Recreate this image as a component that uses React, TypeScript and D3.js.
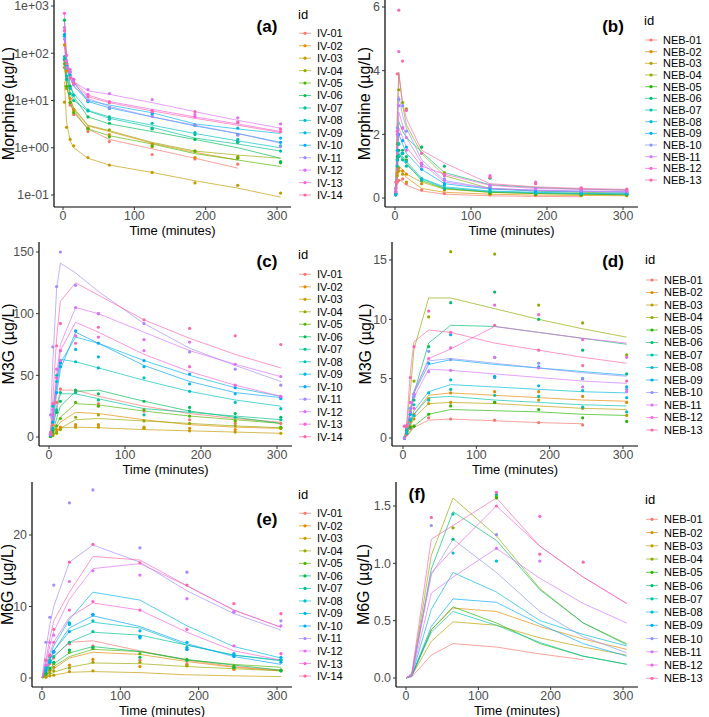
import React from 'react';
import * as d3 from 'd3';

const IV_IDS = ['IV-01','IV-02','IV-03','IV-04','IV-05','IV-06','IV-07','IV-08','IV-09','IV-10','IV-11','IV-12','IV-13','IV-14'];
const NEB_IDS = ['NEB-01','NEB-02','NEB-03','NEB-04','NEB-05','NEB-06','NEB-07','NEB-08','NEB-09','NEB-10','NEB-11','NEB-12','NEB-13'];
const X_TICKS = [0, 100, 200, 300];

// (a) Morphine IV (log scale)
const TIME_A = [2, 5, 10, 15, 35, 65, 125, 185, 245, 305];
const A_YTICKS = [0.1, 1, 10, 100, 1000];
const A_YLABELS = ['1e-01', '1e+00', '1e+01', '1e+02', '1e+03'];
const A_PRED = [
  [60, 22, 9, 5.5, 2.5, 1.5, 0.95, 0.6, 0.37, null],
  [150, 40, 12, 6.5, 2.9, 2.2, 1.25, 0.8, 0.55, null],
  [25, 3.5, 1.4, 1.0, 0.6, 0.43, 0.3, 0.2, 0.14, 0.09],
  [55, 20, 10, 7, 3.0, 2.3, 1.3, 0.85, 0.7, 0.6],
  [65, 22, 9, 6, 2.5, 1.8, 1.2, 0.75, 0.55, 0.4],
  [500, 60, 22, 12, 4.5, 3.2, 2.2, 1.5, 1.0, 0.6],
  [80, 30, 15, 10, 6, 4.2, 2.7, 1.6, 1.2, 0.85],
  [90, 35, 20, 14, 6.2, 4.5, 3.0, 2.0, 1.4, 1.0],
  [200, 60, 30, 20, 10, 8, 5.5, 3.2, 2.5, 2.0],
  [250, 70, 35, 25, 9.5, 7, 4.5, 2.9, 2.0, 1.3],
  [180, 50, 30, 20, 11, 7.5, 4.5, 3.0, 2.0, 1.25],
  [300, 70, 35, 25, 16, 13.5, 9, 5.8, 3.8, 2.6],
  [700, 80, 40, 25, 13, 9.5, 6.5, 4.5, 3.2, 2.2],
  [250, 60, 30, 22, 12, 9, 6, 4.2, 3.0, 2.1],
];
const A_OBS = [
  [70, 20, 8, 5, 2.2, 1.35, 0.72, 0.58, 0.45, null],
  [150, 42, 11, 6.5, 2.6, 1.9, 1.2, 0.62, 0.62, null],
  [9.2, 2.7, 1.5, 1.1, 0.62, 0.43, 0.30, 0.18, 0.16, 0.11],
  [50, 18, 9, 6, 2.6, 2.4, 1.05, 0.85, 0.65, 0.5],
  [60, 20, 9, 5.5, 2.5, 1.7, 1.1, 0.85, 0.6, 0.48],
  [500, 60, 20, 13, 4.5, 3.3, 2.5, 1.5, 1.3, 0.5],
  [75, 28, 14, 10, 6, 4.5, 2.6, 1.9, 1.35, 0.85],
  [85, 33, 18, 13, 6.3, 4.0, 3.3, 2.1, 1.5, 1.1],
  [230, 55, 35, 22, 9.8, 7, 5.0, 3.0, 2.6, 1.6],
  [250, 60, 40, 28, 9.5, 6.8, 5.5, 3.0, 1.9, 1.3],
  [200, 50, 30, 22, 10, 7.0, 4.6, 3.0, 1.85, 1.05],
  [350, 70, 40, 25, 17, 14, 10.5, 5.0, 4.3, 3.2],
  [700, 90, 45, 28, 13.5, 9.5, 6.2, 4.5, 3.5, 2.5],
  [300, 60, 30, 23, 12, 9, 5.8, 5.8, 3.4, 2.2],
];

// (b) Morphine NEB
const TIME_B = [1, 3, 5, 10, 15, 35, 65, 125, 185, 245, 305];
const B_YTICKS = [0, 2, 4, 6];
const B_PRED = [
  [0.05, 0.4, 0.6, 0.5, 0.4, 0.22, 0.12, 0.07, 0.05, 0.04, null],
  [0.1, 0.6, 0.9, 0.8, 0.65, 0.3, 0.18, 0.12, 0.09, 0.08, 0.07],
  [0.1, 0.7, 1.0, 0.9, 0.75, 0.5, 0.28, 0.18, 0.14, 0.12, 0.1],
  [0.2, 2.5, 3.95, 2.9, 2.3, 1.4, 0.7, 0.3, 0.22, 0.18, 0.15],
  [0.1, 1.0, 1.4, 1.25, 1.1, 0.55, 0.3, 0.18, 0.14, 0.12, 0.1],
  [0.2, 1.5, 2.4, 2.1, 1.9, 1.45, 0.8, 0.42, 0.33, 0.28, 0.25],
  [0.1, 0.9, 1.4, 1.2, 1.05, 0.6, 0.32, 0.2, 0.16, 0.14, 0.12],
  [0.1, 1.0, 1.5, 1.3, 1.15, 0.62, 0.35, 0.22, 0.18, 0.15, 0.13],
  [0.15, 1.3, 2.0, 1.7, 1.4, 0.9, 0.45, 0.28, 0.22, 0.2, 0.18],
  [0.2, 2.0, 3.2, 2.6, 2.2, 1.2, 0.55, 0.3, 0.25, 0.22, 0.2],
  [0.2, 1.7, 2.7, 2.3, 1.9, 1.1, 0.5, 0.3, 0.24, 0.21, 0.19],
  [0.15, 1.4, 2.2, 1.9, 1.6, 1.0, 0.75, 0.4, 0.3, 0.27, 0.24],
  [0.3, 2.5, 3.9, 3.0, 2.5, 1.5, 1.1, 0.45, 0.35, 0.3, 0.27],
];
const B_OBS = [
  [0.1, 0.5, 0.55, 0.6, 0.45, 0.25, 0.14, 0.1, 0.08, 0.07, null],
  [0.2, 0.8, 0.95, 0.85, 0.75, 0.45, 0.25, 0.12, 0.1, 0.08, 0.07],
  [0.3, 0.7, 0.85, 0.75, 0.5, 0.55, 0.3, 0.2, 0.15, 0.12, 0.1],
  [0.3, 1.7, 3.4, 3.0, 2.8, 1.6, 0.8, 0.35, 0.2, 0.15, 0.12],
  [0.15, 1.2, 1.5, 1.4, 1.2, 0.6, 0.28, 0.15, 0.12, 0.1, 0.1],
  [0.15, 1.3, 1.7, 1.5, 1.3, 1.6, 1.0, 0.62, 0.3, 0.25, 0.25],
  [0.1, 1.0, 1.3, 1.2, 1.0, 0.55, 0.3, 0.2, 0.15, 0.12, 0.12],
  [0.1, 1.2, 1.7, 1.4, 1.15, 0.6, 0.4, 0.25, 0.18, 0.16, 0.14],
  [0.1, 1.5, 2.0, 1.8, 1.6, 0.9, 0.45, 0.3, 0.22, 0.2, 0.18],
  [0.2, 2.2, 3.1, 2.9, 2.1, 1.05, 0.6, 0.35, 0.28, 0.22, 0.2],
  [0.3, 2.0, 2.9, 2.2, 1.9, 1.0, 0.55, 0.4, 0.3, 0.25, 0.2],
  [0.2, 2.1, 4.6, 2.2, 1.5, 1.1, 0.7, 0.7, 0.5, 0.3, 0.25],
  [0.5, 3.9, 5.9, 4.3, 2.75, 1.4, 0.75, 0.65, 0.45, 0.32, 0.28],
];

// (c) M3G IV
const TIME_C = [2, 5, 10, 15, 35, 65, 125, 185, 245, 305];
const C_YTICKS = [0, 50, 100, 150];
const C_PRED = [
  [1, 8, 25, 38, 38, 33, 25, 19, 15, 12],
  [0.5, 3, 8, 12, 20, 19, 14, 10, 8, 7],
  [0.5, 2, 5, 7.5, 8, 7.5, 6, 5, 4, 3],
  [0.3, 1.5, 4, 7, 14, 15, 13, 11, 9, 7.5],
  [0.5, 3, 10, 16, 27, 26, 21, 17, 14, 11],
  [0.5, 4, 15, 25, 37, 38, 29, 21, 16, 11],
  [1, 8, 22, 35, 35, 31, 23, 20, 17, 14],
  [2, 20, 45, 63, 61, 56, 46, 37, 30, 25],
  [2, 15, 40, 60, 81, 76, 62, 50, 40, 33],
  [1, 10, 35, 55, 85, 76, 58, 45, 36, 32],
  [15, 60, 120, 141, 133, 118, 92, 72, 58, 45],
  [3, 20, 50, 75, 105, 100, 85, 70, 59, 49],
  [2, 15, 45, 70, 93, 85, 67, 53, 42, 33],
  [5, 30, 80, 110, 125, 115, 95, 80, 67, 56],
];
const C_OBS = [
  [1, 10, 28, 39, 37, 27, 21, 14, 11, 11],
  [0.5, 2, 6, 8, 10, 10, 8, 7, 6, 7],
  [0.5, 2, 4, 7, 8, 8, 7, 5, 4, 3],
  [0.3, 1, 3, 6, 16, 18, 13, 11, 9, 7],
  [0.5, 3, 9, 15, 28, 25, 22, 17, 13, 8],
  [1, 5, 20, 29, 38, 35, 29, 24, 19, 16],
  [1, 7, 22, 36, 36, 30, 18, 21, 16, 14],
  [2, 25, 50, 60, 61, 56, 48, 37, 28, 23],
  [2, 18, 45, 57, 71, 65, 57, 43, 35, 31],
  [1, 12, 36, 60, 86, 76, 62, 51, 40, 32],
  [18, 73, 122, 150, 123, 100, 92, 69, 55, 42],
  [3, 22, 55, 62, 105, 100, 70, 77, 59, 49],
  [2, 18, 48, 70, 82, 81, 79, 57, 42, 33],
  [4, 27, 74, 92, 76, 89, 95, 88, 82, 75],
];

// (d) M3G NEB
const TIME_D = [2, 5, 10, 15, 35, 65, 125, 185, 245, 305];
const D_YTICKS = [0, 5, 10, 15];
const D_PRED = [
  [0, 0.1, 0.5, 0.9, 1.5, 1.6, 1.45, 1.3, 1.2, null],
  [0, 0.3, 1.2, 2.0, 3.6, 3.8, 3.6, 3.4, 3.2, 3.1],
  [0, 0.3, 1.0, 1.7, 2.9, 3.0, 2.9, 2.7, 2.5, 2.4],
  [0, 1.0, 4.0, 7.5, 11.8, 11.8, 10.9, 10.0, 9.2, 8.5],
  [0, 0.2, 0.6, 1.0, 2.0, 2.4, 2.3, 2.2, 2.0, 1.9],
  [0, 0.5, 2.0, 3.8, 8.0, 9.5, 9.4, 8.9, 8.4, 7.9],
  [0, 0.3, 1.2, 2.0, 3.4, 3.5, 3.2, 3.0, 2.8, 2.7],
  [0, 0.4, 1.4, 2.3, 3.9, 4.5, 4.3, 4.1, 3.9, 3.8],
  [0, 0.6, 2.2, 3.8, 6.2, 6.6, 6.2, 5.9, 5.6, 5.3],
  [0, 0.6, 2.3, 4.0, 6.5, 6.7, 6.3, 5.9, 5.5, 5.2],
  [0, 0.6, 2.0, 3.4, 5.8, 5.7, 5.4, 5.1, 4.8, 4.6],
  [0, 0.8, 2.5, 3.8, 6.7, 7.5, 9.4, 8.9, 8.4, 8.0],
  [0, 1.2, 5.5, 8.1, 9.1, 8.9, 8.0, 7.4, 6.8, 6.3],
];
const D_OBS = [
  [0, 0.3, 0.8, 1.0, 1.7, 1.6, 1.5, 1.3, 1.1, null],
  [0, 0.6, 1.4, 2.0, 3.3, 3.8, 3.9, 3.9, 3.5, 3.0],
  [0, 0.5, 1.0, 1.6, 2.9, 3.0, 3.0, 3.2, 2.5, 1.9],
  [0, 1.0, 2.2, 4.8, 10.2, 15.7, 15.5, 11.2, 9.7, 7.0],
  [0, 0.4, 0.9, 1.0, 2.0, 2.7, 3.0, 2.4, 1.7, 1.4],
  [0, 0.6, 2.0, 3.2, 7.7, 11.4, 12.3, 10.0, 7.4, 5.4],
  [0, 0.4, 1.5, 2.8, 3.2, 4.1, 3.6, 3.5, 2.6, 2.2],
  [0, 0.5, 1.6, 1.9, 3.8, 4.9, 5.2, 4.4, 4.0, 3.4],
  [0, 0.8, 2.0, 3.7, 6.3, 8.7, 5.1, 6.0, 5.0, 4.3],
  [0, 0.9, 2.5, 3.5, 7.3, 6.6, 6.8, 6.3, 5.0, 4.1],
  [0, 1.0, 2.2, 3.7, 5.6, 5.7, 6.8, 5.9, 4.3, 3.9],
  [1.0, 1.0, 3.0, 2.5, 6.7, 7.6, 11.2, 10.4, 8.3, 6.8],
  [1.0, 1.0, 5.1, 7.7, 10.7, 8.9, 9.5, 7.4, 6.1, 4.8],
];

// (e) M6G IV
const TIME_E = [0, 5, 10, 15, 35, 65, 125, 185, 245, 305];
const E_YTICKS = [0, 10, 20];
const E_PRED = [
  [0, 0.8, 2.0, 3.0, 5.0, 5.2, 3.8, 2.5, 1.6, 1.1],
  [0, 0.3, 0.8, 1.3, 2.8, 3.6, 3.3, 2.3, 1.5, 1.0],
  [0, 0.1, 0.3, 0.4, 0.8, 0.9, 0.75, 0.45, 0.3, 0.2],
  [0, 0.2, 0.5, 0.8, 1.5, 2.1, 2.0, 1.6, 1.3, 1.0],
  [0, 0.4, 1.0, 1.6, 3.0, 4.0, 3.7, 2.5, 1.9, 1.5],
  [0, 0.5, 1.2, 2.0, 3.5, 4.4, 3.7, 2.6, 1.8, 1.1],
  [0, 0.8, 2.0, 3.0, 5.0, 6.4, 6.0, 4.6, 3.2, 2.4],
  [0, 1.0, 2.5, 3.8, 6.5, 7.8, 7.0, 4.6, 3.2, 2.5],
  [0, 1.3, 3.0, 4.5, 8.2, 12.0, 10.9, 7.3, 4.4, 2.8],
  [0, 1.0, 2.5, 3.8, 7.0, 8.7, 7.2, 4.8, 3.0, 1.9],
  [0, 4.0, 7.5, 10.0, 16.2, 18.6, 16.2, 12.2, 9.0, 6.7],
  [0, 2.0, 4.5, 6.5, 11.0, 15.3, 16.0, 12.9, 9.5, 7.1],
  [0, 1.5, 3.5, 5.0, 8.5, 10.5, 9.5, 6.4, 3.8, 2.5],
  [0, 2.5, 5.5, 8.0, 12.0, 17.0, 16.5, 12.9, 9.5, 7.1],
];
const E_OBS = [
  [null, 1.0, 2.0, 2.8, 4.8, 4.5, 2.5, 2.0, 1.2, null],
  [null, 0.5, 1.0, 1.5, 1.8, 2.6, 1.6, 1.8, 1.3, 1.1],
  [null, 0.1, 0.3, 0.4, 0.9, 1.0, null, null, null, null],
  [null, 0.3, 0.7, 1.0, 1.4, 2.2, 2.2, 1.7, 1.4, 1.0],
  [null, 0.6, 1.2, 2.0, 3.6, 4.1, 3.4, 2.6, 1.7, 1.1],
  [null, 0.6, 1.4, 2.2, 3.9, 4.3, 2.9, 2.5, 1.5, 1.0],
  [null, 1.0, 2.2, 3.0, 5.0, 6.5, 5.8, 4.0, 3.1, 2.5],
  [null, 1.2, 2.5, 3.7, 7.7, 8.0, 5.6, 4.3, 3.3, 2.6],
  [null, 1.5, 3.0, 3.6, 7.5, 8.8, 6.6, 5.0, 3.4, 2.9],
  [null, 1.0, 2.2, 3.7, 6.5, 8.9, 5.8, 4.0, 3.0, 2.2],
  [null, 5.0, 8.5, 13.0, 24.5, 26.3, 18.2, 14.8, 9.2, 8.0],
  [null, 2.5, 5.0, 6.0, 13.5, 15.0, 14.4, 11.1, 9.3, 7.3],
  [null, 1.8, 3.2, 5.0, 9.5, 10.7, 9.5, 6.8, 4.5, 3.4],
  [null, 2.5, 3.1, 6.8, 16.2, 18.7, 16.1, 13.0, 10.4, 9.0],
];

// (f) M6G NEB
const TIME_F = [0, 8, 35, 65, 125, 185, 245, 305];
const F_YTICKS = [0, 0.5, 1.0, 1.5];
const F_YLABELS = ['0.0', '0.5', '1.0', '1.5'];
const F_PRED = [
  [0, 0.01, 0.2, 0.3, 0.27, 0.21, 0.16, null],
  [0, 0.02, 0.42, 0.61, 0.58, 0.45, 0.34, 0.25],
  [0, 0.02, 0.32, 0.49, 0.46, 0.35, 0.27, 0.2],
  [0, 0.03, 1.07, 1.57, 1.24, 0.78, 0.48, 0.3],
  [0, 0.02, 0.42, 0.62, 0.48, 0.3, 0.19, 0.12],
  [0, 0.03, 0.95, 1.45, 1.2, 0.77, 0.48, 0.29],
  [0, 0.02, 0.4, 0.58, 0.46, 0.31, 0.19, 0.12],
  [0, 0.02, 0.6, 0.92, 0.75, 0.5, 0.38, 0.28],
  [0, 0.02, 0.45, 0.69, 0.66, 0.47, 0.3, 0.19],
  [0, 0.03, 0.9, 1.21, 0.92, 0.58, 0.36, 0.22],
  [0, 0.02, 0.74, 0.88, 1.13, 0.87, 0.65, 0.48],
  [0, 0.03, 0.92, 1.12, 1.50, 1.15, 0.88, 0.65],
  [0, 0.04, 1.21, 1.33, 1.57, 1.15, 0.88, 0.65],
];
const F_OBS = [
  [null, null, null, null, null, null, null, null],
  [null, null, null, null, null, null, null, null],
  [null, null, null, null, null, null, null, null],
  [null, null, null, 1.31, 1.58, null, null, null],
  [null, null, null, null, 1.57, null, null, null],
  [null, null, null, 1.21, 1.60, null, null, null],
  [null, null, null, 1.43, null, null, null, null],
  [null, null, null, 1.09, 1.02, null, null, null],
  [null, null, null, null, null, null, null, null],
  [null, null, 1.33, null, 1.25, null, null, null],
  [null, null, null, null, 1.13, 1.02, null, null],
  [null, null, null, null, 1.62, 1.41, null, null],
  [null, null, 1.40, null, 1.50, 1.08, 1.01, null],
];

// ggplot2 default hue palette (polar LUV -> sRGB)
function hclLuv(h: number, c: number, l: number): string {
  const Xn = 95.047, Yn = 100, Zn = 108.883;
  const hr = (h * Math.PI) / 180;
  const u = c * Math.cos(hr), v = c * Math.sin(hr);
  const Y = Yn * Math.pow((l + 16) / 116, 3);
  const den = Xn + 15 * Yn + 3 * Zn;
  const un = (4 * Xn) / den, vn = (9 * Yn) / den;
  const up = u / (13 * l) + un, vp = v / (13 * l) + vn;
  const X = (9 * Y * up) / (4 * vp);
  const Z = (Y * (12 - 3 * up - 20 * vp)) / (4 * vp);
  const x = X / 100, y = Y / 100, z = Z / 100;
  const lin = [
    3.240479 * x - 1.53715 * y - 0.498535 * z,
    -0.969256 * x + 1.875992 * y + 0.041556 * z,
    0.055648 * x - 0.204043 * y + 1.057311 * z,
  ];
  const g = lin.map((q) => {
    const s = q <= 0.0031308 ? 12.92 * q : 1.055 * Math.pow(q, 1 / 2.4) - 0.055;
    return Math.round(Math.max(0, Math.min(1, s)) * 255);
  });
  return d3.rgb(g[0], g[1], g[2]).formatHex();
}
function huePal(n: number): string[] {
  return d3.range(n).map((i) => hclLuv(15 + (360 * i) / n, 100, 65));
}

const FONT = '"Liberation Sans", Arial, Helvetica, sans-serif';

type Panel = {
  tag: string; tagX: number; tagY: number;
  ids: string[]; time: number[]; pred: (number | null)[][]; obs: (number | null)[][];
  log?: boolean; yTicks: number[]; yLabels?: string[]; yTitle: string; yTitleX: number;
  x0: number; x300: number; left: number; right: number; top: number; bottom: number;
  yv: [number, number]; yp: [number, number];
  legX: number; legTitleY: number; legY0: number; legStep: number;
};

const PANELS: Panel[] = [
  { tag: '(a)', tagX: 267, tagY: 32, ids: IV_IDS, time: TIME_A, pred: A_PRED, obs: A_OBS, log: true,
    yTicks: A_YTICKS, yLabels: A_YLABELS, yTitle: 'Morphine (µg/L)', yTitleX: 14,
    x0: 63, x300: 277, left: 54, right: 291, top: 0, bottom: 207, yv: [0.1, 1000], yp: [195, 6],
    legX: 298, legTitleY: 19, legY0: 33.3, legStep: 12.44 },
  { tag: '(b)', tagX: 613, tagY: 32, ids: NEB_IDS, time: TIME_B, pred: B_PRED, obs: B_OBS,
    yTicks: B_YTICKS, yTitle: 'Morphine (µg/L)', yTitleX: 370,
    x0: 395, x300: 623, left: 385, right: 638, top: 0, bottom: 207, yv: [0, 6], yp: [198, 7],
    legX: 644, legTitleY: 25, legY0: 40, legStep: 11.67 },
  { tag: '(c)', tagX: 267, tagY: 267, ids: IV_IDS, time: TIME_C, pred: C_PRED, obs: C_OBS,
    yTicks: C_YTICKS, yTitle: 'M3G (µg/L)', yTitleX: 13.5,
    x0: 49, x300: 277, left: 39, right: 292, top: 242, bottom: 446, yv: [0, 150], yp: [437, 252],
    legX: 298, legTitleY: 259, legY0: 274.3, legStep: 12.49 },
  { tag: '(d)', tagX: 613, tagY: 267, ids: NEB_IDS, time: TIME_D, pred: D_PRED, obs: D_OBS,
    yTicks: D_YTICKS, yTitle: 'M3G (µg/L)', yTitleX: 370.5,
    x0: 403, x300: 623, left: 392, right: 638, top: 242, bottom: 446, yv: [0, 15], yp: [438, 260],
    legX: 645, legTitleY: 264, legY0: 280, legStep: 12.5 },
  { tag: '(e)', tagX: 267, tagY: 525, ids: IV_IDS, time: TIME_E, pred: E_PRED, obs: E_OBS,
    yTicks: E_YTICKS, yTitle: 'M6G (µg/L)', yTitleX: 12.5,
    x0: 42, x300: 277, left: 32, right: 292, top: 482, bottom: 687, yv: [0, 20], yp: [678, 535],
    legX: 298, legTitleY: 499, legY0: 513.3, legStep: 12.52 },
  { tag: '(f)', tagX: 417, tagY: 500, ids: NEB_IDS, time: TIME_F, pred: F_PRED, obs: F_OBS,
    yTicks: F_YTICKS, yLabels: F_YLABELS, yTitle: 'M6G (µg/L)', yTitleX: 369,
    x0: 406, x300: 623, left: 396, right: 638, top: 482, bottom: 687, yv: [0, 1.5], yp: [678, 506],
    legX: 645, legTitleY: 504, legY0: 519.3, legStep: 13.25 },
];

function PanelView({ p }: { p: Panel }) {
  const colors = huePal(p.ids.length);
  const x = d3.scaleLinear().domain([0, 300]).range([p.x0, p.x300]);
  const y = p.log
    ? d3.scaleLog().domain(p.yv).range(p.yp)
    : d3.scaleLinear().domain(p.yv).range(p.yp);
  const line = d3
    .line<[number, number | null]>()
    .defined((d) => d[1] !== null)
    .x((d) => x(d[0]))
    .y((d) => y(d[1] as number));
  const tickFs = 12.4;
  const midY = (p.top + p.bottom) / 2;
  return (
    <g>
      {/* y title */}
      <text transform={`translate(${p.yTitleX},${midY}) rotate(-90)`} textAnchor="middle"
        fontSize={16} fontFamily={FONT} fill="#000">{p.yTitle}</text>
      {/* x title */}
      <text x={(p.left + p.right) / 2} y={p.bottom + 27.5} textAnchor="middle" fontSize={13}
        fontFamily={FONT} fill="#000">Time (minutes)</text>
      {/* lines */}
      <g fill="none" strokeWidth={0.9} strokeOpacity={0.75}>
        {p.pred.map((row, i) => (
          <path key={i} d={line(p.time.map((t, j) => [t, row[j]]) as any) || ''} stroke={colors[i]} />
        ))}
      </g>
      {/* points */}
      <g>
        {p.obs.map((row, i) =>
          row.map((v, j) =>
            v === null ? null : (
              <circle key={`${i}-${j}`} cx={x(p.time[j])} cy={y(v)} r={1.6} fill={colors[i]} />
            )
          )
        )}
      </g>
      {/* axes */}
      <line x1={p.left} x2={p.left} y1={p.top} y2={p.bottom} stroke="#000" strokeWidth={1.2} />
      <line x1={p.left} x2={p.right} y1={p.bottom} y2={p.bottom} stroke="#000" strokeWidth={1.2} />
      {X_TICKS.map((t) => (
        <g key={`xt${t}`}>
          <line x1={x(t)} x2={x(t)} y1={p.bottom} y2={p.bottom + 3} stroke="#333" strokeWidth={1} />
          <text x={x(t)} y={p.bottom + 13} textAnchor="middle" fontSize={tickFs} fontFamily={FONT}
            fill="#4d4d4d">{t}</text>
        </g>
      ))}
      {p.yTicks.map((t, k) => (
        <g key={`yt${t}`}>
          <line x1={p.left - 3} x2={p.left} y1={y(t)} y2={y(t)} stroke="#333" strokeWidth={1} />
          <text x={p.left - 5} y={y(t)} dy="0.35em" textAnchor="end" fontSize={tickFs} fontFamily={FONT}
            fill="#4d4d4d">{p.yLabels ? p.yLabels[k] : String(t)}</text>
        </g>
      ))}
      {/* tag */}
      <text x={p.tagX} y={p.tagY} textAnchor="middle" fontSize={17} fontWeight="bold" fontFamily={FONT}
        fill="#000">{p.tag}</text>
      {/* legend */}
      <text x={p.legX} y={p.legTitleY} fontSize={13} fontFamily={FONT} fill="#000">id</text>
      {p.ids.map((id, i) => {
        const cy = p.legY0 + i * p.legStep;
        return (
          <g key={id}>
            <line x1={p.legX + 1} x2={p.legX + 13} y1={cy} y2={cy} stroke={colors[i]} strokeWidth={0.9}
              strokeOpacity={0.75} />
            <circle cx={p.legX + 7} cy={cy} r={1.6} fill={colors[i]} />
            <text x={p.legX + 19} y={cy} dy="0.36em" fontSize={11} fontFamily={FONT} fill="#000">{id}</text>
          </g>
        );
      })}
    </g>
  );
}

export default function App() {
  return (
    <svg width={709} height={717} viewBox="0 0 709 717"
      style={{ position: 'absolute', left: 0, top: 0, background: '#fff' }}>
      <rect x={0} y={0} width={709} height={717} fill="#fff" />
      {PANELS.map((p) => (
        <PanelView key={p.tag} p={p} />
      ))}
    </svg>
  );
}
